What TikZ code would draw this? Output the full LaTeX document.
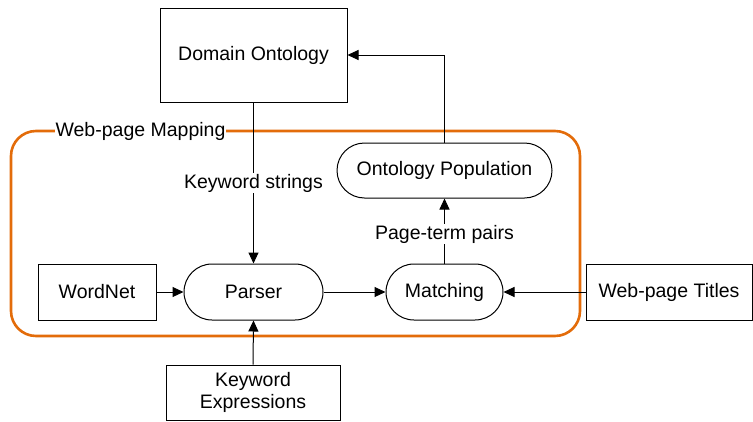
\documentclass[tikz,border=0pt]{standalone}
\usepackage{fontspec}
\setmainfont{Liberation Sans}
\usetikzlibrary{arrows.meta,shapes.misc}
\definecolor{mapborder}{RGB}{227,108,10}
\begin{document}
\begin{tikzpicture}[x=1pt,y=-1pt,
  font=\fontsize{19.5}{22}\selectfont,
  box/.style={draw,line width=1pt,inner sep=0pt,align=center},
  pill/.style={draw,line width=1pt,inner sep=0pt,rounded rectangle,align=center},
  arr/.style={line width=1pt,-{Triangle[length=11pt,width=10pt]}},
  link/.style={line width=1pt},
  container/.style={draw=mapborder,line width=2.6pt,rounded corners=25pt,inner sep=0pt},
  tag/.style={fill=white,inner sep=1pt}]
\useasboundingbox (0,0) rectangle (753,421);

% group frame and its title
\node[container,minimum width=569pt,minimum height=205pt] (map) at (295.5,233.5) {};
\node[tag] (maptitle) at (140.5,131) {Web-page Mapping};

% components
\node[box,minimum width=187pt,minimum height=94pt] (dom) at (253.5,55) {Domain Ontology};
\node[pill,minimum width=215pt,minimum height=55pt] (pop) at (444.5,170.5) {Ontology Population};
\node[pill,minimum width=139pt,minimum height=56pt] (parser) at (253.5,292) {Parser};
\node[pill,minimum width=117pt,minimum height=56pt] (match) at (444.5,292) {Matching};
\node[box,minimum width=118pt,minimum height=56pt] (wn) at (97,292) {WordNet};
\node[box,minimum width=166pt,minimum height=56pt] (titles) at (669,292) {Web-page Titles};
\node[box,minimum width=174pt,minimum height=55pt] (kexp) at (253,392.5) {Keyword\\Expressions};

% data flow
\draw[arr] (dom.south) -- node[tag] (kstr) {Keyword strings} (parser.north);
\draw[arr] (match.north) -- node[tag,pos=0.45] (ptp) {Page-term pairs} (pop.south);
\draw[arr] (pop.north) |- (dom.east);
\draw[arr] (wn.east) -- (parser.west);
\draw[arr] (parser.east) -- (match.west);
\draw[arr] (titles.west) -- (match.east);
\draw[arr] (kexp.north) -- (parser.south);
\end{tikzpicture}
\end{document}
